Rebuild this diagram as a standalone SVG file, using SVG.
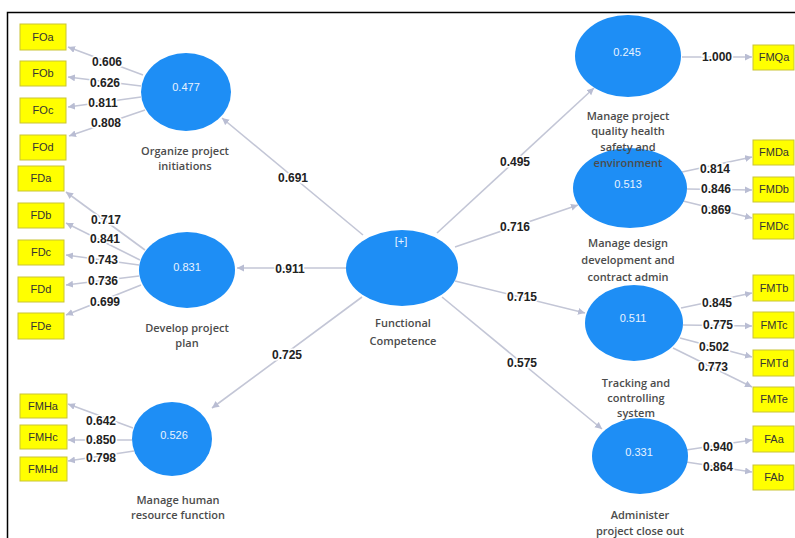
<svg xmlns="http://www.w3.org/2000/svg" width="795" height="538" viewBox="0 0 795 538">
<defs>
<marker id="ah" markerWidth="8" markerHeight="8" refX="7" refY="3.5" orient="auto" markerUnits="userSpaceOnUse">
<path d="M0,0 L7,3.5 L0,7 z" fill="#b9bdd3"/>
</marker>
<style>
.box{fill:#ffff00;stroke:#c9c436;stroke-width:1}
.bt{font-family:"Liberation Sans",Arial,sans-serif;font-size:11px;fill:#333;text-anchor:middle}
.lv{fill:#1e8ef5}
.vt{font-family:"Liberation Sans",Arial,sans-serif;font-size:11px;fill:#e8f3ff;text-anchor:middle}
.nl{font-family:"Open Sans","Liberation Sans",sans-serif;font-size:11px;font-weight:600;fill:#4c4c4c;text-anchor:middle}
.ed{stroke:#c3c6d6;stroke-width:1.6;fill:none;marker-end:url(#ah)}
.el{font-family:"Liberation Sans",Arial,sans-serif;font-size:12px;font-weight:bold;fill:#222;text-anchor:middle;paint-order:stroke;stroke:#fff;stroke-width:3px}
</style>
</defs>
<rect width="795" height="538" fill="#fff"/>
<path d="M7.5,538 L7.5,12.5 L795,12.5" fill="none" stroke="#000" stroke-width="1.5"/>

<g id="connectors">
<path class="ed" d="M143,75 L68,47"/>
<path class="ed" d="M141,86 L68,77"/>
<path class="ed" d="M141,97 L68,107"/>
<path class="ed" d="M145,110 L69,136"/>
<path class="ed" d="M145,250 L66,192"/>
<path class="ed" d="M140,260 L66,223"/>
<path class="ed" d="M139,265 L66,255"/>
<path class="ed" d="M139,276 L66,285"/>
<path class="ed" d="M141,285 L66,315"/>
<path class="ed" d="M133,428 L68,404"/>
<path class="ed" d="M132,440 L68,440"/>
<path class="ed" d="M134,451 L68,461"/>
<path class="ed" d="M363,235 L222,118"/>
<path class="ed" d="M347,268 L237,268"/>
<path class="ed" d="M362,297 L212,408"/>
<path class="ed" d="M437,233 L594,88"/>
<path class="ed" d="M455,247 L578,205"/>
<path class="ed" d="M455,281 L585,313"/>
<path class="ed" d="M442,297 L602,429"/>
<path class="ed" d="M682,57 L752,57"/>
<path class="ed" d="M682,172 L752,157"/>
<path class="ed" d="M687,189 L752,190"/>
<path class="ed" d="M683,201 L752,218"/>
<path class="ed" d="M681,308 L752,293"/>
<path class="ed" d="M683,325 L752,326"/>
<path class="ed" d="M680,338 L752,357"/>
<path class="ed" d="M673,348 L752,387"/>
<path class="ed" d="M686,450 L752,440"/>
<path class="ed" d="M686,462 L752,472"/>
<text class="el" x="107" y="66">0.606</text>
<text class="el" x="105" y="87">0.626</text>
<text class="el" x="103" y="107">0.811</text>
<text class="el" x="106" y="127">0.808</text>
<text class="el" x="106" y="224">0.717</text>
<text class="el" x="105" y="243">0.841</text>
<text class="el" x="103" y="264">0.743</text>
<text class="el" x="103" y="285">0.736</text>
<text class="el" x="105" y="306">0.699</text>
<text class="el" x="101" y="425">0.642</text>
<text class="el" x="101" y="444">0.850</text>
<text class="el" x="101" y="462">0.798</text>
<text class="el" x="293" y="182">0.691</text>
<text class="el" x="290" y="273">0.911</text>
<text class="el" x="287" y="359">0.725</text>
<text class="el" x="515" y="166">0.495</text>
<text class="el" x="515" y="231">0.716</text>
<text class="el" x="522" y="301">0.715</text>
<text class="el" x="522" y="367">0.575</text>
<text class="el" x="717" y="61">1.000</text>
<text class="el" x="715" y="173">0.814</text>
<text class="el" x="716" y="193">0.846</text>
<text class="el" x="716" y="214">0.869</text>
<text class="el" x="717" y="307">0.845</text>
<text class="el" x="718" y="329">0.775</text>
<text class="el" x="714" y="351">0.502</text>
<text class="el" x="713" y="371">0.773</text>
<text class="el" x="718" y="451">0.940</text>
<text class="el" x="718" y="471">0.864</text>
</g>

<g id="FOa"><rect class="box" x="20" y="24" width="46" height="26"/><text class="bt" x="43" y="41">FOa</text></g>
<g id="FOb"><rect class="box" x="20" y="61" width="46" height="25"/><text class="bt" x="43" y="77">FOb</text></g>
<g id="FOc"><rect class="box" x="20" y="98" width="46" height="25"/><text class="bt" x="43" y="114">FOc</text></g>
<g id="FOd"><rect class="box" x="20" y="135" width="46" height="25"/><text class="bt" x="43" y="151">FOd</text></g>
<g id="FDa"><rect class="box" x="18" y="166" width="46" height="25"/><text class="bt" x="41" y="182">FDa</text></g>
<g id="FDb"><rect class="box" x="18" y="203" width="46" height="25"/><text class="bt" x="41" y="219">FDb</text></g>
<g id="FDc"><rect class="box" x="18" y="240" width="46" height="25"/><text class="bt" x="41" y="256">FDc</text></g>
<g id="FDd"><rect class="box" x="18" y="277" width="46" height="25"/><text class="bt" x="41" y="293">FDd</text></g>
<g id="FDe"><rect class="box" x="18" y="313" width="46" height="26"/><text class="bt" x="41" y="330">FDe</text></g>
<g id="FMHa"><rect class="box" x="20" y="394" width="47" height="24"/><text class="bt" x="43" y="410">FMHa</text></g>
<g id="FMHc"><rect class="box" x="20" y="425" width="47" height="24"/><text class="bt" x="43" y="441">FMHc</text></g>
<g id="FMHd"><rect class="box" x="20" y="457" width="47" height="24"/><text class="bt" x="43" y="473">FMHd</text></g>

<g id="FMQa"><rect class="box" x="753" y="45" width="41" height="25"/><text class="bt" x="774" y="61">FMQa</text></g>
<g id="FMDa"><rect class="box" x="753" y="140" width="41" height="25"/><text class="bt" x="774" y="156">FMDa</text></g>
<g id="FMDb"><rect class="box" x="753" y="177" width="41" height="25"/><text class="bt" x="774" y="193">FMDb</text></g>
<g id="FMDc"><rect class="box" x="753" y="214" width="41" height="25"/><text class="bt" x="774" y="230">FMDc</text></g>
<g id="FMTb"><rect class="box" x="753" y="275" width="41" height="26"/><text class="bt" x="774" y="292">FMTb</text></g>
<g id="FMTc"><rect class="box" x="753" y="312" width="41" height="26"/><text class="bt" x="774" y="329">FMTc</text></g>
<g id="FMTd"><rect class="box" x="753" y="350" width="41" height="26"/><text class="bt" x="774" y="367">FMTd</text></g>
<g id="FMTe"><rect class="box" x="753" y="387" width="41" height="25"/><text class="bt" x="774" y="403">FMTe</text></g>
<g id="FAa"><rect class="box" x="753" y="426" width="41" height="26"/><text class="bt" x="774" y="443">FAa</text></g>
<g id="FAb"><rect class="box" x="753" y="465" width="41" height="25"/><text class="bt" x="774" y="481">FAb</text></g>

<g id="organize"><ellipse class="lv" cx="186" cy="92" rx="45" ry="39"/><text class="vt" x="186" y="91">0.477</text><text class="nl" x="185" y="155">Organize project</text><text class="nl" x="185" y="170">initiations</text></g>
<g id="develop"><ellipse class="lv" cx="187" cy="270" rx="48" ry="38"/><text class="vt" x="187" y="271">0.831</text><text class="nl" x="187" y="332">Develop project</text><text class="nl" x="187" y="347">plan</text></g>
<g id="human"><ellipse class="lv" cx="172" cy="439" rx="40" ry="37"/><text class="vt" x="174" y="439">0.526</text><text class="nl" x="178" y="504">Manage human</text><text class="nl" x="178" y="519">resource function</text></g>
<g id="functional"><ellipse class="lv" cx="402" cy="268" rx="56" ry="38"/><text class="vt" x="401" y="245">[+]</text><text class="nl" x="403" y="327">Functional</text><text class="nl" x="403" y="345">Competence</text></g>
<g id="design"><ellipse class="lv" cx="630" cy="188" rx="57" ry="40"/><text class="vt" x="628" y="188">0.513</text><text class="nl" x="628" y="247">Manage design</text><text class="nl" x="628" y="264">development and</text><text class="nl" x="628" y="281">contract admin</text></g>
<g id="quality"><ellipse class="lv" cx="628" cy="56" rx="53" ry="41"/><text class="vt" x="627" y="56">0.245</text><text class="nl" x="628" y="120">Manage project</text><text class="nl" x="628" y="135">quality health</text><text class="nl" x="628" y="151">safety and</text><text class="nl" x="628" y="167">environment</text></g>
<g id="tracking"><ellipse class="lv" cx="634" cy="323" rx="49" ry="38"/><text class="vt" x="633" y="322">0.511</text><text class="nl" x="636" y="387">Tracking and</text><text class="nl" x="636" y="402">controlling</text><text class="nl" x="636" y="417">system</text></g>
<g id="closeout"><ellipse class="lv" cx="640" cy="456" rx="48" ry="38"/><text class="vt" x="639" y="456">0.331</text><text class="nl" x="640" y="519">Administer</text><text class="nl" x="640" y="535">project close out</text></g>
</svg>
